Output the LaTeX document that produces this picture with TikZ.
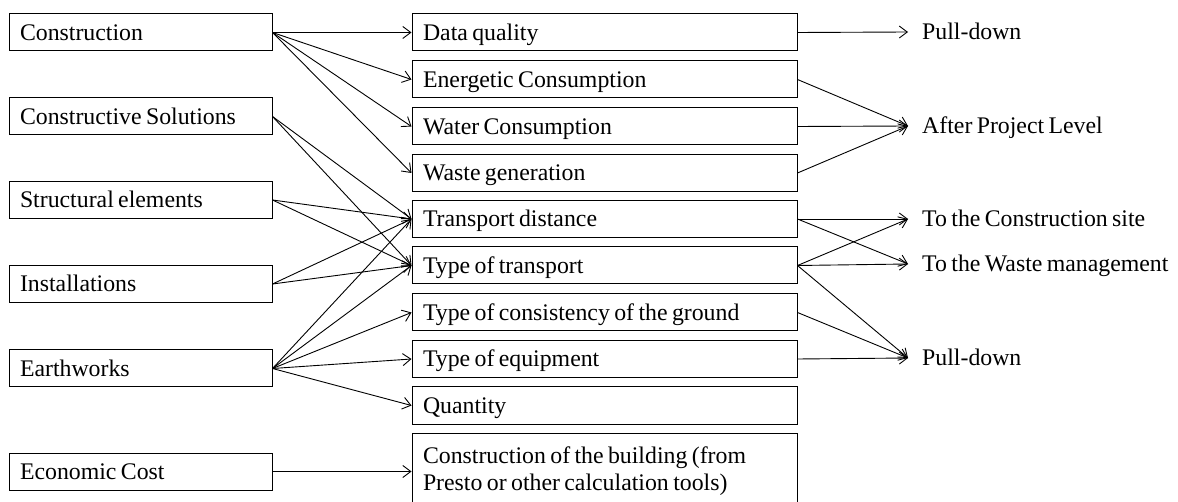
\documentclass[tikz,border=0pt]{standalone}
\usepackage{fontspec}
\setmainfont{Liberation Serif}
\usetikzlibrary{arrows.meta}
\newcommand\tightspaces{\spaceskip=4.4pt plus 1pt minus 0.5pt\relax}
\begin{document}
\begin{tikzpicture}[x=1pt,y=-1pt,
  font=\fontsize{23.8}{27}\selectfont,
  every node/.append style={execute at begin node=\tightspaces},
  box/.style={draw,line width=1pt,inner xsep=11pt,inner ysep=0pt,align=left,
              minimum height=37pt,text height=16pt,text depth=0pt},
  lbox/.style={box,text width=241pt},
  mbox/.style={box,text width=363pt},
  lab/.style={anchor=west,inner xsep=14pt,inner ysep=0pt,text height=16pt,text depth=0pt},
  link/.style={line width=0.9pt,-{Straight Barb[length=8pt,width=12pt,line width=0.9pt]}}
]
\useasboundingbox (0,0) rectangle (1178,502);
\clip (0,0) rectangle (1178,502);

% input categories
\node[lbox] (con)  at (140.5,32.5)  {Construction};
\node[lbox] (csol) at (140.5,116.5) {Constructive Solutions};
\node[lbox] (str)  at (140.5,200)   {Structural elements};
\node[lbox] (ins)  at (140.5,284)   {Installations};
\node[lbox] (ear)  at (140.5,368.5) {Earthworks};
\node[lbox] (eco)  at (140.5,471.5) {Economic Cost};

% parameters
\node[mbox] (dq)   at (604.5,32.5)  {Data quality};
\node[mbox] (enc)  at (604.5,79.5)  {Energetic Consumption};
\node[mbox] (wac)  at (604.5,126.5) {Water Consumption};
\node[mbox] (wag)  at (604.5,173)   {Waste generation};
\node[mbox] (tdi)  at (604.5,219)   {Transport distance};
\node[mbox] (tty)  at (604.5,265.5) {Type of transport};
\node[mbox] (tcg)  at (604.5,312.5) {Type of consistency of the ground};
\node[mbox] (teq)  at (604.5,359)   {Type of equipment};
\node[mbox] (qty)  at (604.5,405.5) {Quantity};
\node[draw,line width=1pt,inner xsep=11pt,inner ysep=0pt,align=left,
      text width=363pt,minimum height=77pt] (bld) at (604.5,471.5)
      {Construction of the building (from\\Presto or other calculation tools)};

% sources
\node[lab] (pd1) at (908,32)  {Pull-down};
\node[lab] (apl) at (908,126) {After Project Level};
\node[lab] (tcs) at (908,219) {To the Construction site};
\node[lab] (twm) at (908,264) {To the Waste management};
\node[lab] (pd2) at (908,358) {Pull-down};

% left to middle
\foreach \t in {dq,enc,wac,wag} \draw[link] (con.east) -- (\t.west);
\foreach \t in {tdi,tty} {
  \draw[link] (csol.east) -- (\t.west);
  \draw[link] (str.east) -- (\t.west);
  \draw[link] (ins.east) -- (\t.west);
}
\foreach \t in {tdi,tty,tcg,teq,qty} \draw[link] (ear.east) -- (\t.west);
\draw[link] (eco.east) -- (bld.west);

% middle to right
\draw[link] (dq.east) -- (pd1.west);
\foreach \s in {enc,wac,wag} \draw[link] (\s.east) -- (apl.west);
\foreach \s in {tdi,tty} {
  \draw[link] (\s.east) -- (tcs.west);
  \draw[link] (\s.east) -- (twm.west);
}
\foreach \s in {tty,tcg,teq} \draw[link] (\s.east) -- (pd2.west);
\end{tikzpicture}
\end{document}
